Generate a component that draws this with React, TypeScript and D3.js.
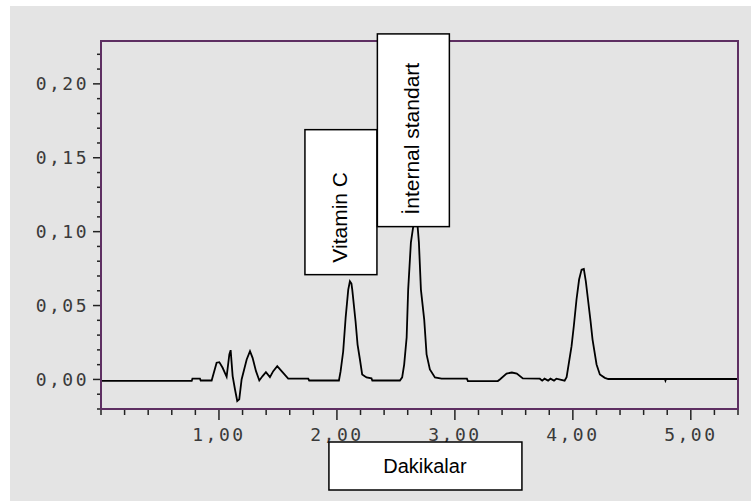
import React from "react";
import * as d3 from "d3";

// chromatogram trace (minutes, AU)
const times = [
  0, 0.769, 0.775, 0.839, 0.845, 0.938, 0.98, 1.003, 1.031, 1.065, 1.088, 1.099,
  1.116, 1.136, 1.155, 1.172, 1.192, 1.235, 1.263, 1.285, 1.314, 1.342, 1.37,
  1.398, 1.432, 1.46, 1.494, 1.531, 1.587, 1.757, 1.765, 2.017, 2.031, 2.053,
  2.074, 2.096, 2.11, 2.123, 2.13, 2.158, 2.175, 2.195, 2.214, 2.251, 2.293, 2.3,
  2.534, 2.553, 2.57, 2.591, 2.604, 2.627, 2.647, 2.665, 2.684, 2.695, 2.712,
  2.74, 2.76, 2.788, 2.831, 2.887, 3.102, 3.11, 3.364, 3.381, 3.438, 3.483,
  3.525, 3.576, 3.72, 3.74, 3.76, 3.79, 3.81, 3.84, 3.86, 3.93, 3.947, 3.989,
  4.008, 4.031, 4.053, 4.074, 4.093, 4.11, 4.13, 4.15, 4.167, 4.201, 4.229,
  4.271, 4.3, 4.78, 4.785, 4.79, 5.4,
];
const absorbance = [
  -0.001, -0.001, 0.0005, 0.0005, -0.0007, -0.0007, 0.0113, 0.0117, 0.0079,
  0.0018, 0.0169, 0.0198, 0.0023, -0.0068, -0.0146, -0.0135, 0, 0.0135, 0.0191,
  0.0146, 0.0056, -0.0007, 0.0023, 0.0049, 0.0016, 0.0056, 0.009, 0.0056, 0.0005,
  0.0005, -0.0007, -0.0007, 0.0054, 0.0189, 0.0419, 0.0608, 0.0664, 0.0649,
  0.0608, 0.0392, 0.0236, 0.0135, 0.0034, 0.0014, 0.0007, -0.0007, -0.0007,
  0.0014, 0.0101, 0.0284, 0.0608, 0.0926, 0.1036, 0.118, 0.1036, 0.0926, 0.0608,
  0.0405, 0.0169, 0.0068, 0.0014, 0.0005, 0.0005, -0.0011, -0.0011, 0, 0.004,
  0.0047, 0.004, 0.0007, 0.0005, -0.0008, 0.0005, -0.0008, 0.0005, -0.0008,
  0.0005, -0.0008, 0.0016, 0.0225, 0.036, 0.0541, 0.0676, 0.0743, 0.0748,
  0.0664, 0.0529, 0.0394, 0.027, 0.0101, 0.0034, 0.0011, 0.0003, 0.0003,
  -0.0008, 0.0003, 0.0003,
];

const xTickValues = [1, 2, 3, 4, 5];
const xTickLabels = ["1,00", "2,00", "3,00", "4,00", "5,00"];
const yTickValues = [0, 0.05, 0.1, 0.15, 0.2];
const yTickLabels = ["0,00", "0,05", "0,10", "0,15", "0,20"];

// peak labels: centre time, bottom and top of the box in AU
const peakNames = ["Vitamin C", "İnternal standart"];
const peakLabelTimes = [2.034, 2.648];
const peakLabelBottoms = [0.0709, 0.1034];
const peakLabelTops = [0.169, 0.2338];

const xTitle = "Dakikalar";

const W = 751;
const H = 501;
const margin = { left: 101, top: 41, right: 13, bottom: 92 };

const App = () => {
  const svgRef = React.useRef<SVGSVGElement>(null);

  React.useEffect(() => {
    const xScale = d3.scaleLinear().domain([0, 5.4]).range([margin.left, W - margin.right]);
    const yScale = d3.scaleLinear().domain([-0.02, 0.229]).range([H - margin.bottom, margin.top]);
    const svgEl = d3.select(svgRef.current);
    svgEl.selectAll("*").remove();

    svgEl.append("rect").attr("x", 10).attr("y", 6).attr("width", W - 10).attr("height", H - 6).attr("fill", "#e4e4e4");

    const x0 = xScale.range()[0];
    const x1 = xScale.range()[1];
    const y0 = yScale.range()[0];
    const y1 = yScale.range()[1];

    // Y ticks (minor every 0.01, major every 0.05)
    const yMinor = d3.range(-0.02, 0.2201, 0.01);
    svgEl
      .append("g")
      .selectAll("line")
      .data(yMinor)
      .enter()
      .append("line")
      .attr("x1", (d) => (yTickValues.some((v) => Math.abs(v - d) < 1e-6) ? x0 - 8 : x0 - 4))
      .attr("x2", x0)
      .attr("y1", (d) => yScale(d))
      .attr("y2", (d) => yScale(d))
      .attr("stroke", "#222")
      .attr("stroke-width", 1.5);

    // X ticks (minor every 0.2, major every 1)
    const xMinor = d3.range(0, 5.401, 0.2);
    svgEl
      .append("g")
      .selectAll("line")
      .data(xMinor)
      .enter()
      .append("line")
      .attr("x1", (d) => xScale(d))
      .attr("x2", (d) => xScale(d))
      .attr("y1", y0)
      .attr("y2", (d) => (xTickValues.some((v) => Math.abs(v - d) < 1e-6) ? y0 + 11 : y0 + 6))
      .attr("stroke", "#222")
      .attr("stroke-width", 1.5);

    const labelStyle = (sel) =>
      sel
        .attr("font-family", "'DejaVu Sans Mono', monospace")
        .attr("font-size", 18)
        .attr("letter-spacing", 2.5)
        .attr("fill", "#3a3a3a");

    svgEl
      .append("g")
      .selectAll("text")
      .data(yTickValues)
      .enter()
      .append("text")
      .attr("x", x0 - 12)
      .attr("y", (d) => yScale(d))
      .attr("dy", "0.36em")
      .attr("text-anchor", "end")
      .text((d, i) => yTickLabels[i])
      .call(labelStyle);

    svgEl
      .append("g")
      .selectAll("text")
      .data(xTickValues)
      .enter()
      .append("text")
      .attr("x", (d) => xScale(d))
      .attr("y", y0 + 32)
      .attr("text-anchor", "middle")
      .text((d, i) => xTickLabels[i])
      .call(labelStyle);

    // trace
    const points = times.map((t, i) => [t, absorbance[i]]);
    const line = d3
      .line()
      .x((d) => xScale(d[0]))
      .y((d) => yScale(d[1]));
    svgEl
      .append("path")
      .attr("d", line(points))
      .attr("fill", "none")
      .attr("stroke", "#000")
      .attr("stroke-width", 1.8)
      .attr("stroke-linejoin", "miter");

    // plot frame
    svgEl
      .append("rect")
      .attr("x", x0)
      .attr("y", y1)
      .attr("width", x1 - x0)
      .attr("height", y0 - y1)
      .attr("fill", "none")
      .attr("stroke", "#5e2f62")
      .attr("stroke-width", 2);

    // peak label boxes
    const boxW = 72;
    peakNames.forEach((name, i) => {
      const cx = xScale(peakLabelTimes[i]);
      const yb = yScale(peakLabelBottoms[i]);
      const yt = yScale(peakLabelTops[i]);
      svgEl
        .append("rect")
        .attr("x", cx - boxW / 2)
        .attr("y", yt)
        .attr("width", boxW)
        .attr("height", yb - yt)
        .attr("fill", "#fff")
        .attr("stroke", "#000")
        .attr("stroke-width", 1.5);
      svgEl
        .append("text")
        .attr("transform", `translate(${cx + 6},${yb - 12}) rotate(-90)`)
        .attr("text-anchor", "start")
        .attr("font-family", "'Liberation Sans', Arial, sans-serif")
        .attr("font-size", 21)
        .attr("fill", "#000")
        .text(name);
    });

    // axis title box
    const tx = xScale(2.746);
    svgEl
      .append("rect")
      .attr("x", tx - 96)
      .attr("y", y0 + 33)
      .attr("width", 193)
      .attr("height", 48)
      .attr("fill", "#fff")
      .attr("stroke", "#000")
      .attr("stroke-width", 1.5);
    svgEl
      .append("text")
      .attr("x", tx)
      .attr("y", y0 + 64)
      .attr("text-anchor", "middle")
      .attr("font-family", "'Liberation Sans', Arial, sans-serif")
      .attr("font-size", 20)
      .attr("fill", "#000")
      .text(xTitle);
  }, []);

  return (
    <svg
      ref={svgRef}
      width={W}
      height={H}
      style={{ position: "absolute", left: 0, top: 0, background: "#fff" }}
    />
  );
};

export default App;
